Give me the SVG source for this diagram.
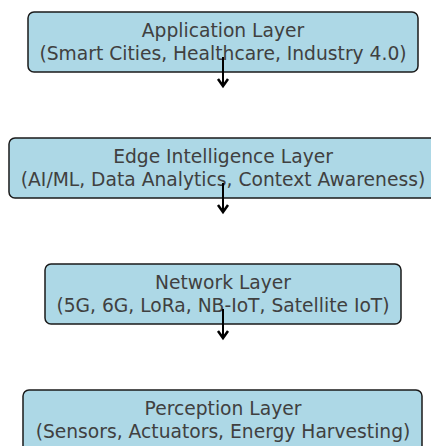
<svg xmlns="http://www.w3.org/2000/svg" width="431" height="446" viewBox="0 0 431 446">
<style>
.box{fill:#add8e6;stroke:#1a1a1a;stroke-width:1.5}
.t{font-family:"DejaVu Sans",sans-serif;font-size:18.7px;fill:#404040;text-anchor:middle}
.c{fill:none;stroke:#000;stroke-width:2}
.h{fill:none;stroke:#000;stroke-width:2.5;stroke-linejoin:miter}
</style>
<rect width="431" height="446" fill="#fff"/>
<g id="application">
<rect class="box" x="28" y="12" width="390" height="60" rx="6"/>
<text class="t" x="223" y="36.5">Application Layer</text>
<text class="t" x="223" y="60">(Smart Cities, Healthcare, Industry 4.0)</text>
</g>
<g id="edge">
<rect class="box" x="9" y="138" width="428" height="60" rx="6"/>
<text class="t" x="223" y="162.5">Edge Intelligence Layer</text>
<text class="t" x="223" y="186">(AI/ML, Data Analytics, Context Awareness)</text>
</g>
<g id="network">
<rect class="box" x="45" y="264" width="356" height="60" rx="6"/>
<text class="t" x="223" y="288.5">Network Layer</text>
<text class="t" x="223" y="312">(5G, 6G, LoRa, NB-IoT, Satellite IoT)</text>
</g>
<g id="perception">
<rect class="box" x="23" y="390" width="399" height="62" rx="6"/>
<text class="t" x="223" y="414.5">Perception Layer</text>
<text class="t" x="223" y="438">(Sensors, Actuators, Energy Harvesting)</text>
</g>
<g id="connectors">
<path class="c" d="M223,57 V86"/>
<path class="h" d="M218,79 L223,86 L228,79"/>
<path class="c" d="M223,183 V212"/>
<path class="h" d="M218,205 L223,212 L228,205"/>
<path class="c" d="M223,309 V338"/>
<path class="h" d="M218,331 L223,338 L228,331"/>
</g>
</svg>
